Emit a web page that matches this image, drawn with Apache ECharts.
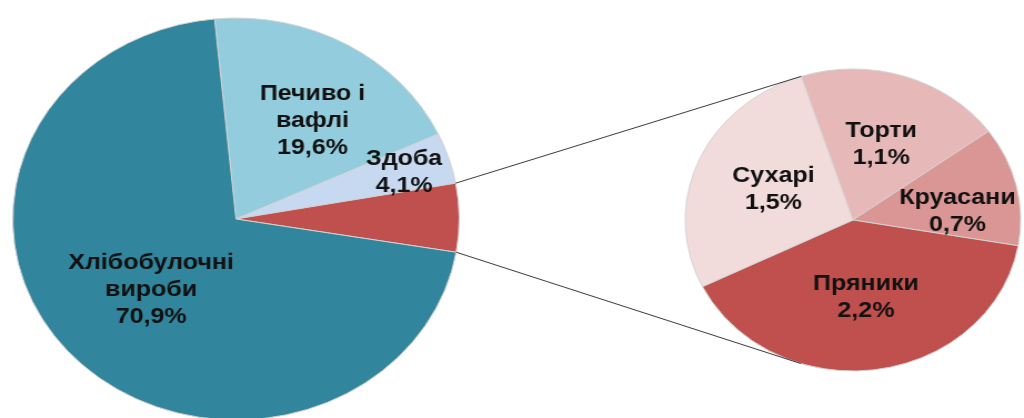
<!DOCTYPE html>
<html>
<head>
<meta charset="utf-8">
<script src="https://cdn.jsdelivr.net/npm/echarts@6/dist/echarts.min.js"></script>
<style>
  html, body { margin: 0; padding: 0; background: #fff; overflow: hidden; }
  #wrap { width: 1024px; height: 418px; overflow: hidden; }
  #chart { width: 922px; height: 418px; transform: scaleX(1.1106); transform-origin: 0 0; }
</style>
</head>
<body>
<div id="wrap"><div id="chart"></div></div>
<script>
// ---- data ----
const mainNames  = ['Печиво і\nвафлі', 'Здоба', 'Інші', 'Хлібобулочні\nвироби'];
const mainValues = [19.6, 4.1, 5.5, 70.9];
const subNames   = ['Торти', 'Круасани', 'Пряники', 'Сухарі'];
const subValues  = [1.1, 0.7, 2.2, 1.5];

// ---- styles / layout ----
const mainColors = ['#93CDDD', '#C6D9F1', '#C0504D', '#31859C'];
const subColors  = ['#E6B9B8', '#D99694', '#C0504D', '#F2DCDB'];
const mainCenter = [212.5, 219], mainR = 201, mainStart = 95.5;
const subCenter  = [768, 220],   subR  = 151, subStart  = 108;
const mainLabelFrac = [0.59, 0.79, 0, 0.52];
const subLabelFrac  = [0.525, 0.62, 0.5, 0.515];
const mainLabelNudge = [[10, 4.5], [0, 1], [0, 0], [0, 0]];
const subLabelNudge  = [[1, 0], [3, 13], [1, 3], [0, 0]];
const otherIndex = 2;

function fmt(v) { return v.toFixed(1).replace('.', ',') + '%'; }

function sliceAngles(values, start) {
  const sum = values.reduce((a, b) => a + b, 0);
  let a = start;
  return values.map(v => {
    const span = v / sum * 360;
    const res = { from: a, to: a - span, mid: a - span / 2 };
    a -= span;
    return res;
  });
}

function labelLayoutFor(center, r, angles, fracs, nudges) {
  return function (params) {
    const i = params.dataIndex;
    const a = angles[i].mid * Math.PI / 180;
    return {
      x: center[0] + fracs[i] * r * Math.cos(a) + nudges[i][0],
      y: center[1] - fracs[i] * r * Math.sin(a) + nudges[i][1],
      align: 'center',
      verticalAlign: 'middle'
    };
  };
}

function pt(center, r, deg) {
  const a = deg * Math.PI / 180;
  return [center[0] + r * Math.cos(a), center[1] - r * Math.sin(a)];
}

const mainAngles = sliceAngles(mainValues, mainStart);
const subAngles  = sliceAngles(subValues, subStart);

const p1 = pt(mainCenter, mainR, mainAngles[otherIndex].from);
const p2 = pt(mainCenter, mainR, mainAngles[otherIndex].to);
const q1 = pt(subCenter, subR, subStart);
const q2 = pt(subCenter, subR, -subStart);

const labelStyle = {
  show: true,
  position: 'inside',
  color: '#111',
  fontFamily: 'Liberation Sans, Arial, sans-serif',
  fontWeight: 'bold',
  fontSize: 22.5,
  lineHeight: 27,
  formatter: p => p.name + '\n' + fmt(p.value)
};

const chart = echarts.init(document.getElementById('chart'));
chart.setOption({
  animation: false,
  backgroundColor: '#fff',
  graphic: [
    { type: 'line', z: 10, shape: { x1: p1[0], y1: p1[1], x2: q1[0], y2: q1[1] }, style: { stroke: '#3a3a3a', lineWidth: 1 } },
    { type: 'line', z: 10, shape: { x1: p2[0], y1: p2[1], x2: q2[0], y2: q2[1] }, style: { stroke: '#3a3a3a', lineWidth: 1 } }
  ],
  series: [
    {
      type: 'pie',
      center: mainCenter,
      radius: mainR,
      startAngle: mainStart,
      clockwise: true,
      label: labelStyle,
      labelLine: { show: false },
      labelLayout: labelLayoutFor(mainCenter, mainR, mainAngles, mainLabelFrac, mainLabelNudge),
      emphasis: { disabled: true },
      itemStyle: { borderColor: '#d4d4d4', borderWidth: 1 },
      data: mainNames.map((n, i) => ({
        name: n,
        value: mainValues[i],
        itemStyle: { color: mainColors[i] },
        label: i === otherIndex ? { show: false } : {}
      }))
    },
    {
      type: 'pie',
      center: subCenter,
      radius: subR,
      startAngle: subStart,
      clockwise: true,
      label: labelStyle,
      labelLine: { show: false },
      labelLayout: labelLayoutFor(subCenter, subR, subAngles, subLabelFrac, subLabelNudge),
      emphasis: { disabled: true },
      itemStyle: { borderColor: '#d4d4d4', borderWidth: 1 },
      data: subNames.map((n, i) => ({
        name: n,
        value: subValues[i],
        itemStyle: { color: subColors[i] }
      }))
    }
  ]
});
</script>
</body>
</html>
